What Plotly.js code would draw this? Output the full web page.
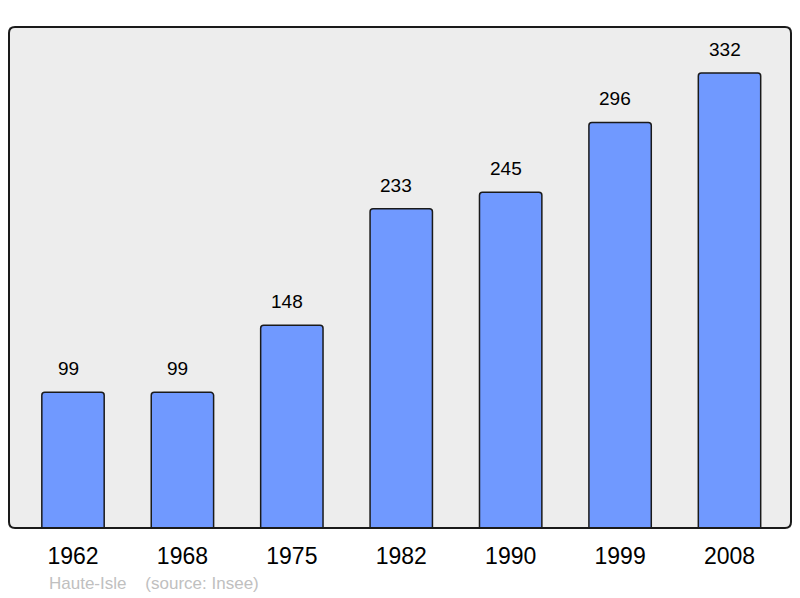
<!DOCTYPE html>
<html><head><meta charset="utf-8">
<script src="https://cdn.plot.ly/plotly-3.0.1.min.js"></script>
<style>html,body{margin:0;padding:0;background:#fff}#c{width:800px;height:598px}</style>
</head><body><div id="c"></div>
<script>
var years = ['1962','1968','1975','1982','1990','1999','2008'];
var population = [99, 99, 148, 233, 245, 296, 332];
var footerText = 'Haute-Isle    (source: Insee)';

var W = 800, H = 598, mL = 9, mR = 9, mT = 27, mB = 70;
var pw = W - mL - mR, ph = H - mT - mB;
var rx = 6 / pw, ry = 6 / ph;
var framePath = 'M ' + rx + ' 0 L ' + (1 - rx) + ' 0 Q 1 0 1 ' + ry +
  ' L 1 ' + (1 - ry) + ' Q 1 1 ' + (1 - rx) + ' 1 L ' + rx + ' 1 Q 0 1 0 ' + (1 - ry) +
  ' L 0 ' + ry + ' Q 0 0 ' + rx + ' 0 Z';

var FONT = 'Liberation Sans, Arial, sans-serif';
var annotations = years.map(function (y, i) {
  return {x: i, y: population[i], xref: 'x', yref: 'y', text: String(population[i]),
    showarrow: false, yanchor: 'bottom', yshift: 11, xshift: -5,
    font: {family: FONT, size: 19, color: '#000'}};
});
annotations.push({
  x: (47 - mL) / pw, y: -(583 - (H - mB)) / ph, xref: 'paper', yref: 'paper',
  xanchor: 'left', yanchor: 'middle', text: footerText.replace(/ /g, '&nbsp;'), showarrow: false,
  font: {family: FONT, size: 17, color: '#c0c0c0'}
});

var data = [{
  type: 'bar', x: years.map(function (_, i) { return i; }), y: population,
  width: 0.57,
  marker: {color: '#7099ff', line: {color: '#1a1a1a', width: 1.5}, cornerradius: 3},
  hoverinfo: 'none'
}];

var layout = {
  width: W, height: H,
  margin: {l: mL, r: mR, t: mT, b: mB, pad: 0},
  paper_bgcolor: '#ffffff', plot_bgcolor: '#ededed',
  showlegend: false,
  xaxis: {range: [-0.585, 6.562], tickmode: 'array', tickvals: [0,1,2,3,4,5,6], ticktext: years,
    showgrid: false, zeroline: false, showline: false, ticks: '', ticklen: 0,
    ticklabelstandoff: 12,
    tickfont: {family: FONT, size: 23, color: '#000'},
    automargin: false},
  yaxis: {range: [0, 365.6], showgrid: false, zeroline: false, showline: false,
    showticklabels: false, ticks: '', automargin: false},
  shapes: [{type: 'path', xref: 'paper', yref: 'paper', path: framePath,
    line: {color: '#1a1a1a', width: 2}, layer: 'above'}],
  annotations: annotations
};

Plotly.newPlot('c', data, layout, {staticPlot: true, displayModeBar: false});
</script>
</body></html>
